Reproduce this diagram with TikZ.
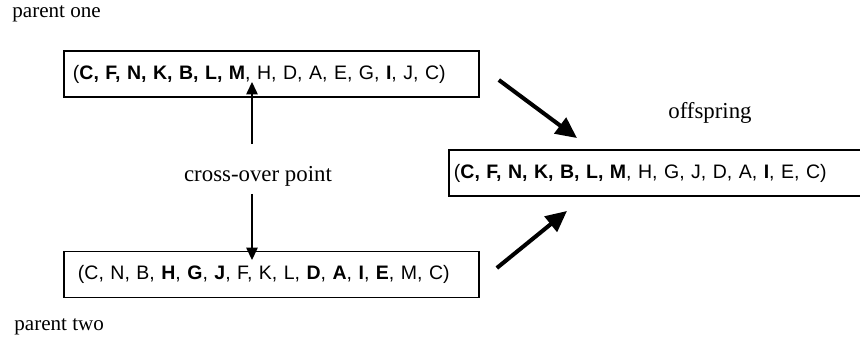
\documentclass[tikz,border=0pt]{standalone}
\usepackage{fontspec}
\setmainfont{Liberation Serif}
\setsansfont{Liberation Sans}
\usepackage{tikz}
\usetikzlibrary{positioning,calc}
\usetikzlibrary{arrows.meta}
\tikzset{
  chrom/.style={draw=black,line width=1.1pt,anchor=west,minimum height=0.92cm,
    align=left,font=\sffamily\fontsize{11.1}{13}\selectfont},
  lbl/.style={anchor=base west,inner sep=0pt,font=\fontsize{12}{14}\selectfont},
  cut/.style={draw=black,line width=0.7pt,-{Triangle[length=7pt,width=6.5pt]}},
  merge/.style={draw=black,line width=2.3pt,-{Triangle[length=12pt,width=11pt]}},
}

\begin{document}
\begin{tikzpicture}[x=0.02cm,y=-0.02cm]
\useasboundingbox (0,0) rectangle (860,346);
\node[lbl] (lone) at (12,17) {parent one};
\node[lbl] (ltwo) at (14,330) {parent two};
\node[chrom,text width=7.94cm,inner xsep=0.18cm] (p1) at (63,74)
  {(\textbf{C, F, N, K, B, L, M}, H, D, A, E, G, \textbf{I}, J, C)};
\node[chrom,text width=7.74cm,inner xsep=0.28cm] (p2) at (63,274.5)
  {(C, N, B, \textbf{H}, \textbf{G}, \textbf{J}, F, K, L, \textbf{D}, \textbf{A}, \textbf{I}, \textbf{E}, M, C)};
\node[chrom,text width=8.24cm,inner xsep=0.1cm] (kid) at (448,173)
  {(\textbf{C, F, N, K, B, L, M}, H, G, J, D, A, \textbf{I}, E, C)};
\node[anchor=base,font=\fontsize{13}{15}\selectfont] (lkid) at (710,118) {offspring};
\node[anchor=base,inner xsep=0pt,inner ysep=0.15cm,text height=0.58cm,text depth=0.1cm,
  font=\fontsize{13}{15}\selectfont] (xover) at (258,181) {cross-over point};
% cut positions
\coordinate (cutA) at (252,82);
\coordinate (cutB) at (252,260);
\draw[cut] (xover.north -| cutA) -- (cutA);
\draw[cut] (xover.south -| cutB) -- (cutB);
% parents into offspring
\draw[merge] ([shift={(19,6)}]p1.east) -- ([shift={(129,-11)}]kid.north west);
\draw[merge] ([shift={(17,-6.5)}]p2.east) -- ([shift={(119,14)}]kid.south west);
\end{tikzpicture}
\end{document}
